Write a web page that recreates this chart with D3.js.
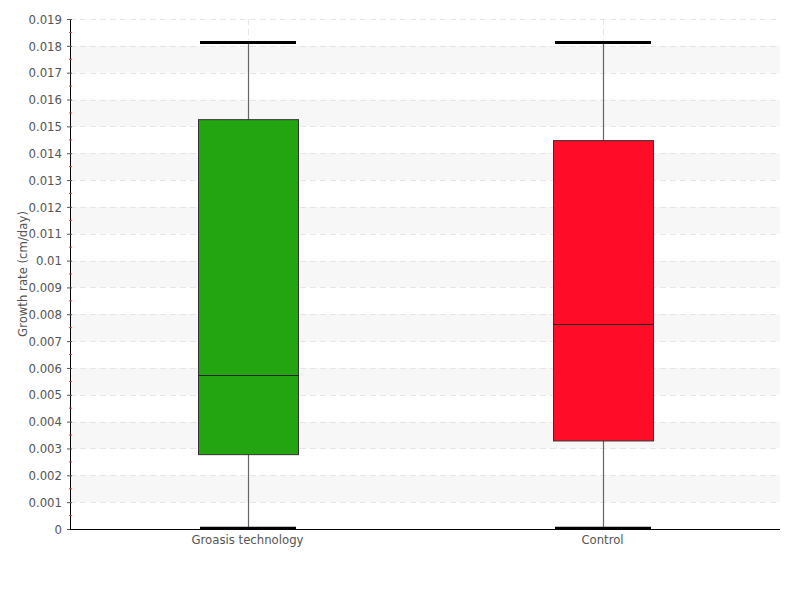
<!DOCTYPE html>
<html>
<head>
<meta charset="utf-8">
<script src="https://cdn.jsdelivr.net/npm/d3@7"></script>
<style>
body { margin: 0; background: #fff; }
svg text { font-family: "DejaVu Sans", sans-serif; font-stretch: condensed; }
</style>
</head>
<body>
<svg width="800" height="600"></svg>
<script>
var categories = ["Groasis technology", "Control"];
var whiskerLow = [0.00003, 0.00003];
var q1 = [0.00277, 0.00328];
var median = [0.00575, 0.00765];
var q3 = [0.01525, 0.01447];
var whiskerHigh = [0.01812, 0.01812];
var colors = ["#22a511", "#ff0c28"];
var yTicks = d3.range(0, 0.0191, 0.001);
var yLabel = "Growth rate (cm/day)";

var svg = d3.select("svg"),
    margin = {left: 70, right: 20, top: 19, bottom: 71},
    width = 800 - margin.left - margin.right,
    height = 600 - margin.top - margin.bottom;

var g = svg.append("g").attr("transform", "translate(" + margin.left + "," + margin.top + ")");

var x = d3.scaleBand().domain(categories).range([0, width]);
var y = d3.scaleLinear().domain([0, 0.019]).range([height, 0]);

// alternating bands
var bands = d3.range(1, 19, 2).map(function(i){ return i * 0.001; });
g.selectAll(".band").data(bands).enter().append("rect")
    .attr("x", 0).attr("width", width)
    .attr("y", function(d){ return y(d + 0.001); })
    .attr("height", function(d){ return y(d) - y(d + 0.001); })
    .attr("fill", "#f7f7f7");

// dashed grid
g.selectAll(".grid").data(yTicks.slice(1)).enter().append("line")
    .attr("x1", 0).attr("x2", width)
    .attr("y1", function(d){ return Math.round(y(d)) + 0.5; })
    .attr("y2", function(d){ return Math.round(y(d)) + 0.5; })
    .attr("stroke", "#e6e6e6").attr("stroke-dasharray", "6,4");
g.selectAll(".vgrid").data(categories).enter().append("line")
    .attr("x1", function(d){ return Math.round(x(d) + x.bandwidth() / 2) + 0.5; })
    .attr("x2", function(d){ return Math.round(x(d) + x.bandwidth() / 2) + 0.5; })
    .attr("y1", 0).attr("y2", height)
    .attr("stroke", "#e6e6e6").attr("stroke-dasharray", "6,4");

// boxes
var bw = 100, cw = 96;
var box = g.selectAll(".box").data(categories).enter().append("g")
    .attr("transform", function(d){ return "translate(" + Math.round(x(d) + x.bandwidth() / 2) + ",0)"; });

box.append("line")
    .attr("x1", 0.5).attr("x2", 0.5)
    .attr("y1", function(d, i){ return y(whiskerHigh[i]); })
    .attr("y2", function(d, i){ return y(whiskerLow[i]); })
    .attr("stroke", "#666").attr("stroke-width", 1.2);
box.append("rect")
    .attr("x", -bw / 2 + 0.5).attr("width", bw)
    .attr("y", function(d, i){ return y(q3[i]); })
    .attr("height", function(d, i){ return y(q1[i]) - y(q3[i]); })
    .attr("fill", function(d, i){ return colors[i]; })
    .attr("stroke", "#333").attr("stroke-width", 1);
box.append("line")
    .attr("x1", -bw / 2 + 0.5).attr("x2", bw / 2 + 0.5)
    .attr("y1", function(d, i){ return Math.round(y(median[i])) + 0.5; })
    .attr("y2", function(d, i){ return Math.round(y(median[i])) + 0.5; })
    .attr("stroke", "#222").attr("stroke-width", 1);
[whiskerHigh, whiskerLow].forEach(function(arr){
    box.append("line")
        .attr("x1", -cw / 2).attr("x2", cw / 2)
        .attr("y1", function(d, i){ return y(arr[i]); })
        .attr("y2", function(d, i){ return y(arr[i]); })
        .attr("stroke", "#000").attr("stroke-width", 3);
});

// y axis
var yAxis = g.append("g").attr("class", "y-axis")
    .call(d3.axisLeft(y).tickValues(yTicks).tickSize(4).tickPadding(4)
        .tickFormat(function(d){ return d === 0 ? "0" : d3.format(".3~f")(d); }));
yAxis.select(".domain").attr("stroke", "#000").attr("d", "M0.5," + height + "V0");
yAxis.selectAll(".tick line").attr("stroke", "#555").attr("x2", 2).attr("x1", -3);
yAxis.selectAll(".tick text").attr("fill", "#555").style("font-size", "13px");

// minor red ticks
g.selectAll(".minor").data(yTicks.slice(0, -1)).enter().append("line")
    .attr("x1", -1).attr("x2", 2)
    .attr("y1", function(d){ return y(d + 0.0005); })
    .attr("y2", function(d){ return y(d + 0.0005); })
    .attr("stroke", "#ff3030");

// x axis
g.append("line").attr("x1", 0).attr("x2", width)
    .attr("y1", height + 0.5).attr("y2", height + 0.5).attr("stroke", "#000");
g.selectAll(".xlabel").data(categories).enter().append("text")
    .attr("x", function(d){ return x(d) + x.bandwidth() / 2; })
    .attr("y", height + 15)
    .attr("text-anchor", "middle")
    .attr("fill", "#555").style("font-size", "13px")
    .text(function(d){ return d; });

svg.append("text")
    .attr("transform", "translate(27," + (margin.top + height / 2) + ") rotate(-90)")
    .attr("text-anchor", "middle")
    .attr("fill", "#555").style("font-size", "13px")
    .text(yLabel);
</script>
</body>
</html>
